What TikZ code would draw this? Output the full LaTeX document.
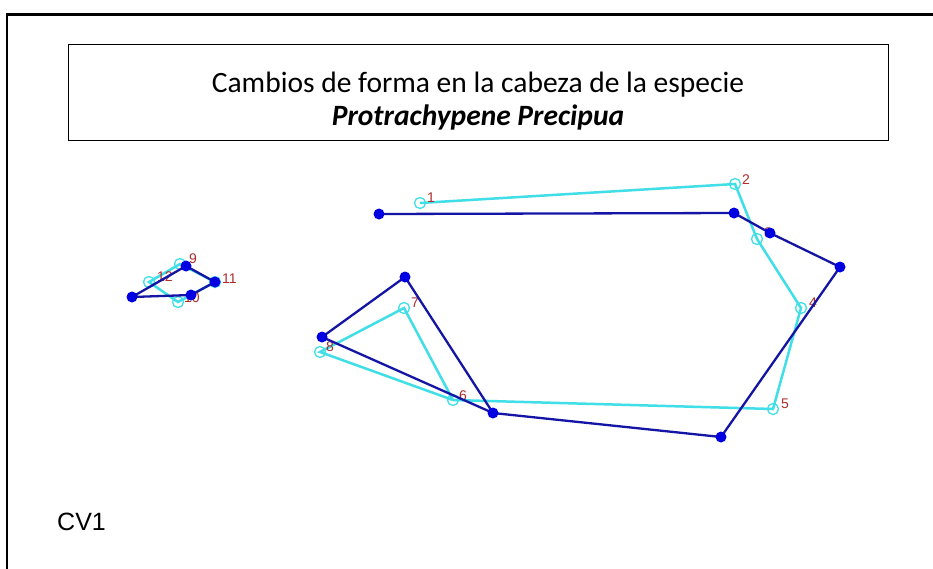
\documentclass[tikz,border=0pt]{standalone}
\usepackage{fontspec}
\setmainfont{Carlito}
\newfontfamily\arialf{Liberation Sans}
\definecolor{cyanl}{RGB}{64,222,230}
\definecolor{darkl}{RGB}{20,20,165}
\definecolor{dotc}{RGB}{0,0,225}
\definecolor{lab}{RGB}{175,45,45}
\begin{document}
\begin{tikzpicture}[x=1pt,y=-1pt,
  cl/.style={draw=cyanl,line width=2.5pt},
  dl/.style={draw=darkl,line width=2.3pt},
  cpt/.style={circle,draw=cyanl,line width=1.3pt,minimum size=11pt,inner sep=0pt,fill=none},
  dpt/.style={circle,fill=dotc,minimum size=11pt,inner sep=0pt},
  lbl/.style={font=\arialf\fontsize{14}{14}\selectfont,text=lab,inner sep=0pt,anchor=west}]
\useasboundingbox (0,0) rectangle (933,568);
\fill[white] (0,0) rectangle (933,568);
% outer frame
\draw[line width=2.5pt] (7,600) -- (7,14.5) -- (940,14.5);
% title box
\node[draw,line width=1pt,minimum width=820pt,minimum height=96pt,anchor=north west,inner sep=0pt] (title) at (68,44) {};
\node[font=\fontsize{29.5}{33}\selectfont,align=center] (ttext) at (478,101) {Cambios de forma en la cabeza de la especie\\\textbf{\textit{Protrachypene Precipua}}};
\node[font=\arialf\fontsize{25}{25}\selectfont,anchor=west,inner sep=0pt] (cv) at (57,522) {CV1};
% cyan points
\coordinate (c1) at (420,203);
\coordinate (c2) at (735,184);
\coordinate (c3) at (757,239);
\coordinate (c4) at (801,308);
\coordinate (c5) at (773,409);
\coordinate (c6) at (453,400);
\coordinate (c7) at (404,308);
\coordinate (c8) at (320,352);
\coordinate (c9) at (180,264);
\coordinate (c10) at (178,302);
\coordinate (c11) at (215,282);
\coordinate (c12) at (149,282);
% dark points
\coordinate (d1) at (379,214);
\coordinate (d2) at (734,213);
\coordinate (d3) at (770,233);
\coordinate (d4) at (840,267);
\coordinate (d5) at (721,437);
\coordinate (d6) at (493,413);
\coordinate (d7) at (405,277);
\coordinate (d8) at (322,337);
\coordinate (d9) at (186,266);
\coordinate (d10) at (191,295);
\coordinate (d11) at (215,282);
\coordinate (d12) at (132,297);
% cyan lines
\draw[cl] (c1) -- (c2) -- (c3) -- (c4) -- (c5) -- (c6) -- (c7) -- (c8) -- (c6);
\draw[cl] (c12) -- (c9) -- (c11) -- (c10) -- cycle;
% cyan markers
\foreach \i in {1,...,12} \node[cpt] (cm\i) at (c\i) {};
% labels
\node[lbl] (l1) at (427,198) {1};
\node[lbl] (l2) at (742,180) {2};
\node[lbl] (l3) at (764,233) {3};
\node[lbl] (l4) at (809,303) {4};
\node[lbl] (l5) at (781,404) {5};
\node[lbl] (l6) at (459,396) {6};
\node[lbl] (l7) at (411,303) {7};
\node[lbl] (l8) at (326,347) {8};
\node[lbl] (l9) at (189,259) {9};
\node[lbl] (l10) at (184,298) {10};
\node[lbl] (l11) at (222,279) {11};
\node[lbl] (l12) at (157,277) {12};
% dark lines
\draw[dl] (d1) -- (d2) -- (d3) -- (d4) -- (d5) -- (d6) -- (d7) -- (d8) -- (d6);
\draw[dl] (d12) -- (d9) -- (d11) -- (d10) -- cycle;
\foreach \i in {1,...,12} \node[dpt] (dm\i) at (d\i) {};
\end{tikzpicture}
\end{document}
